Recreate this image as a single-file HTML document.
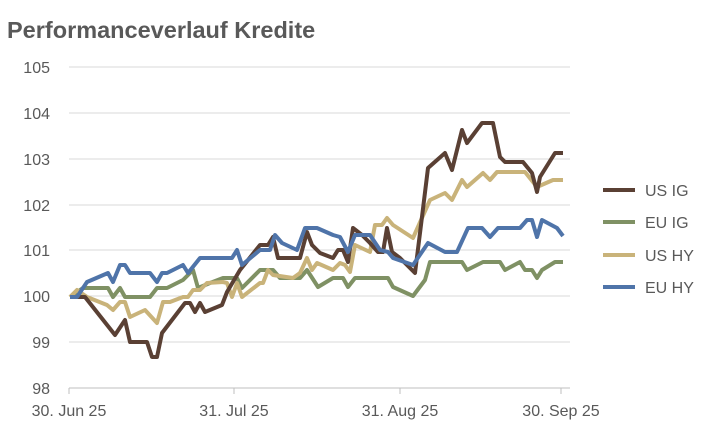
<!DOCTYPE html>
<html><head><style>body{margin:0;background:#fff}svg{display:block}</style></head><body>
<svg width="720" height="432" xmlns="http://www.w3.org/2000/svg" font-family="Liberation Sans, sans-serif">
<text x="7" y="38" font-size="23.5" font-weight="bold" fill="#595959">Performanceverlauf Kredite</text>
<g stroke="#d9d9d9" stroke-width="1">
<line x1="69" x2="570" y1="67" y2="67"/><line x1="69" x2="570" y1="113" y2="113"/><line x1="69" x2="570" y1="159" y2="159"/><line x1="69" x2="570" y1="205" y2="205"/><line x1="69" x2="570" y1="250" y2="250"/><line x1="69" x2="570" y1="296" y2="296"/><line x1="69" x2="570" y1="342" y2="342"/>
</g>
<line x1="69" x2="570" y1="388" y2="388" stroke="#bfbfbf"/>
<g stroke="#bfbfbf"><line x1="69" x2="69" y1="388" y2="394"/><line x1="234" x2="234" y1="388" y2="394"/><line x1="400" x2="400" y1="388" y2="394"/><line x1="561" x2="561" y1="388" y2="394"/></g>
<g font-size="16" fill="#595959" text-anchor="end">
<text x="50" y="73">105</text><text x="50" y="119">104</text><text x="50" y="165">103</text><text x="50" y="211">102</text><text x="50" y="256">101</text><text x="50" y="302">100</text><text x="50" y="348">99</text><text x="50" y="394">98</text>
</g>
<g font-size="16" fill="#595959" text-anchor="middle">
<text x="69" y="416">30. Jun 25</text><text x="234" y="416">31. Jul 25</text><text x="400" y="416">31. Aug 25</text><text x="561" y="416">30. Sep 25</text>
</g>
<g fill="none" stroke-width="4" stroke-linejoin="round">
<polyline stroke="#7f9164" points="70,297 83,288 108,288 113,297 120,288 125,297 150,297 157,288 167,288 183,280 193,270 198,288 210,283 223,278 237,278 242,288 260,270 273,270 280,278 300,278 307,270 318,287 333,278 343,278 348,287 355,278 388,278 393,287 413,296 425,280 430,262 462,262 467,270 483,262 500,262 505,270 520,262 525,270 532,270 537,278 542,270 555,262 563,262"/>
<polyline stroke="#c9b37a" points="70,297 77,290 87,297 107,305 113,310 120,302 125,302 130,317 145,310 157,323 163,302 170,302 183,297 188,297 193,290 200,290 207,283 223,282 227,283 232,297 237,283 242,297 260,283 263,283 268,270 273,275 293,278 300,273 307,258 312,270 317,263 333,270 340,263 345,265 350,272 355,245 370,252 375,225 382,225 387,218 393,225 413,238 430,200 445,193 452,200 462,180 467,187 483,173 490,180 497,172 525,172 537,187 553,180 563,180"/>
<polyline stroke="#5a4034" points="70,297 85,297 115,335 125,320 130,342 147,342 152,357 157,357 162,333 185,303 190,303 195,312 200,303 205,312 222,305 227,292 240,270 252,255 260,245 268,245 273,237 278,258 300,258 307,232 312,245 320,253 333,258 338,250 343,250 348,262 353,228 362,235 370,243 378,252 383,252 387,228 392,252 400,258 415,273 420,233 428,168 445,153 452,170 462,130 467,143 482,123 493,123 500,157 505,162 523,162 532,173 537,192 540,177 555,153 563,153"/>
<polyline stroke="#4f74a9" points="70,297 77,297 87,282 108,273 113,282 120,265 125,265 130,273 150,273 157,282 162,273 167,273 183,265 188,273 200,258 232,258 237,250 242,265 260,250 270,250 275,235 282,243 297,250 305,228 317,228 333,235 340,237 348,252 355,235 370,235 380,250 388,252 393,258 413,265 428,243 445,252 457,252 468,228 482,228 490,237 498,228 520,228 527,220 532,220 537,237 542,220 557,228 563,236"/>
</g>
<g stroke-width="4">
<line x1="603" x2="635" y1="190" y2="190" stroke="#5a4034"/>
<line x1="603" x2="635" y1="222" y2="222" stroke="#7f9164"/>
<line x1="603" x2="635" y1="255" y2="255" stroke="#c9b37a"/>
<line x1="603" x2="635" y1="287" y2="287" stroke="#4f74a9"/>
</g>
<g font-size="16" fill="#595959">
<text x="645" y="196">US IG</text><text x="645" y="228">EU IG</text><text x="645" y="261">US HY</text><text x="645" y="293">EU HY</text>
</g>
</svg>
</body></html>
